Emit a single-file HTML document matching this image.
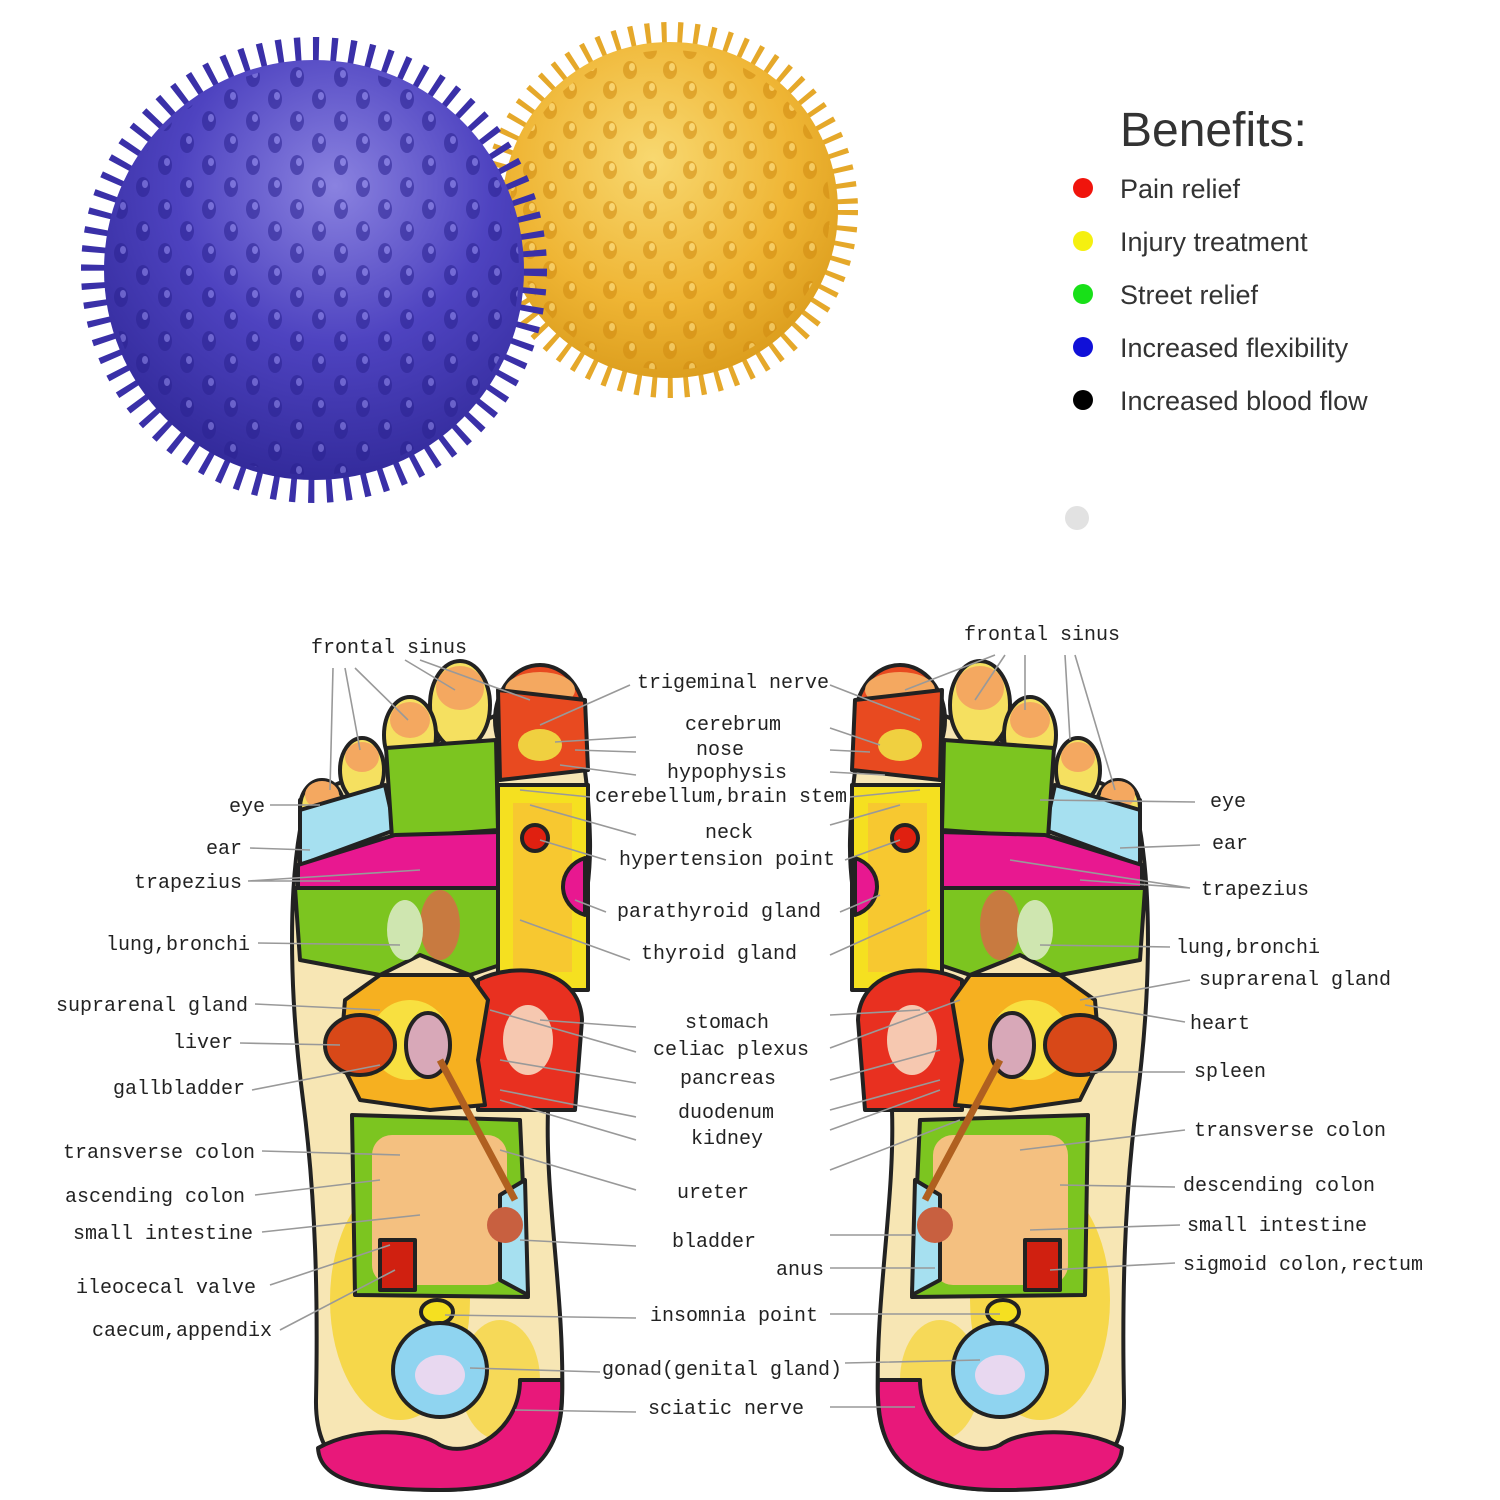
<!DOCTYPE html>
<html><head><meta charset="utf-8"><style>
html,body{margin:0;padding:0;background:#fff;}
svg{display:block}
.m{font-family:"Liberation Mono",monospace;font-size:20px;fill:#222;}
.s{font-family:"Liberation Sans",sans-serif;fill:#333;}
.ln{stroke:#999;stroke-width:1.6;fill:none}
.o{stroke:#222;stroke-width:4;stroke-linejoin:round}
</style></head><body>
<svg width="1500" height="1500" viewBox="0 0 1500 1500" xmlns="http://www.w3.org/2000/svg">
<defs>
<radialGradient id="yb" cx="0.45" cy="0.35" r="0.7"><stop offset="0" stop-color="#f8d870"/><stop offset="0.6" stop-color="#efb534"/><stop offset="1" stop-color="#d99a1a"/></radialGradient>
<radialGradient id="bb" cx="0.55" cy="0.3" r="0.75"><stop offset="0" stop-color="#8a82e0"/><stop offset="0.5" stop-color="#4e43c0"/><stop offset="1" stop-color="#2f2796"/></radialGradient>
<pattern id="bp" width="44" height="44" patternUnits="userSpaceOnUse">
 <ellipse cx="11" cy="11" rx="7" ry="10" fill="#2a2290"/>
 <ellipse cx="13" cy="8" rx="3" ry="4" fill="#8f88e6"/>
 <ellipse cx="33" cy="33" rx="7" ry="10" fill="#2a2290"/>
 <ellipse cx="35" cy="30" rx="3" ry="4" fill="#8f88e6"/>
</pattern>
<pattern id="yp" width="40" height="40" patternUnits="userSpaceOnUse">
 <ellipse cx="10" cy="10" rx="7" ry="9" fill="#d08a10"/>
 <ellipse cx="12" cy="7" rx="3" ry="4" fill="#fde08a"/>
 <ellipse cx="30" cy="30" rx="7" ry="9" fill="#d08a10"/>
 <ellipse cx="32" cy="27" rx="3" ry="4" fill="#fde08a"/>
</pattern>
<g id="foot">
 <path class="o" fill="#f7e6b4" d="M300,830 C288,900 290,1000 303,1100 C316,1200 318,1300 316,1400 C315,1470 360,1490 440,1490 C520,1490 560,1462 562,1400 C565,1300 545,1200 548,1110 C552,1010 592,930 590,840 C588,760 575,700 555,690 L300,800 Z"/>
 <ellipse cx="400" cy="1300" rx="70" ry="120" fill="#f5d330" opacity="0.8"/>
 <ellipse cx="500" cy="1380" rx="40" ry="60" fill="#f5d330" opacity="0.7"/>
 <ellipse cx="540" cy="720" rx="45" ry="55" class="o" fill="#e84a20"/>
 <ellipse cx="540" cy="690" rx="35" ry="18" fill="#f4a860"/>
 <ellipse cx="460" cy="705" rx="30" ry="44" class="o" fill="#f5e060"/>
 <ellipse cx="460" cy="688" rx="24" ry="22" fill="#f4a860"/>
 <ellipse cx="410" cy="735" rx="26" ry="38" class="o" fill="#f5e060"/>
 <ellipse cx="410" cy="720" rx="20" ry="18" fill="#f4a860"/>
 <ellipse cx="362" cy="770" rx="22" ry="32" class="o" fill="#f5e060"/>
 <ellipse cx="362" cy="757" rx="17" ry="15" fill="#f4a860"/>
 <ellipse cx="322" cy="808" rx="22" ry="28" class="o" fill="#f5e060"/>
 <ellipse cx="322" cy="795" rx="17" ry="14" fill="#f4a860"/>
 <path class="o" fill="#a6e0f0" d="M300,810 L385,785 L395,830 L300,865 Z"/>
 <path class="o" fill="#7cc520" d="M386,748 L496,740 L498,830 L392,838 Z"/>
 <path class="o" fill="#e81890" d="M298,865 L395,835 L500,832 L500,890 L298,890 Z"/>
 <path class="o" fill="#7cc520" d="M295,888 L500,888 L500,965 L470,975 L420,955 L380,975 L300,960 Z"/>
 <ellipse cx="440" cy="925" rx="20" ry="35" fill="#c87a40"/>
 <ellipse cx="405" cy="930" rx="18" ry="30" fill="#cfe6b0"/>
 <path class="o" fill="#f5e020" d="M498,785 L588,785 L588,990 L498,990 Z"/>
 <path stroke="#f5e020" stroke-width="6" fill="#f7c830" d="M510,800 L575,800 L575,975 L510,975 Z"/>
 <path class="o" fill="#e81890" d="M585,858 A32,30 0 0 0 585,915 Z"/>
 <circle cx="535" cy="838" r="13" class="o" fill="#e02010"/>
 <path class="o" fill="#e84a20" d="M498,690 L585,700 L588,770 L500,780 Z"/>
 <ellipse cx="540" cy="745" rx="22" ry="16" fill="#f0d040"/>
 <path class="o" fill="#e83020" d="M478,980 C520,960 580,970 582,1020 L575,1110 L478,1110 Z"/>
 <ellipse cx="528" cy="1040" rx="25" ry="35" fill="#f6c8b0"/>
 <path class="o" fill="#f6b020" d="M345,1000 L380,975 L470,975 L488,1000 L478,1060 L485,1105 L430,1110 L360,1100 L340,1060 Z"/>
 <circle cx="410" cy="1040" r="40" fill="#f8e040"/>
 <ellipse cx="360" cy="1045" rx="35" ry="30" class="o" fill="#d84818"/>
 <ellipse cx="428" cy="1045" rx="22" ry="32" class="o" fill="#d8a8b8"/>
 <path class="o" fill="#7cc520" d="M352,1115 L520,1120 L528,1297 L355,1295 L352,1115 Z"/>
 <rect x="372" y="1135" width="135" height="150" rx="20" fill="#f4c080"/>
 <path class="o" fill="#a6e0f0" d="M500,1195 L525,1180 L528,1295 L500,1280 Z"/>
 <ellipse cx="505" cy="1225" rx="18" ry="18" fill="#c86040"/>
 <path stroke="#b06020" stroke-width="7" d="M440,1060 L515,1200"/>
 <rect x="380" y="1240" width="35" height="50" class="o" fill="#d02010"/>
 <ellipse cx="437" cy="1312" rx="16" ry="12" class="o" fill="#f5e020"/>
 <circle cx="440" cy="1370" r="47" class="o" fill="#8fd4f0"/>
 <ellipse cx="440" cy="1375" rx="25" ry="20" fill="#e8d8f0"/>
 <path class="o" fill="#e8187a" d="M318,1448 C360,1425 420,1430 440,1445 C470,1460 520,1430 520,1380 L562,1380 C565,1460 530,1490 440,1490 C360,1490 320,1480 318,1448 Z"/>
</g>
</defs>

<g>
 <circle cx="670" cy="210" r="175" fill="none" stroke="#e5a82a" stroke-width="26" stroke-dasharray="5 11"/>
 <circle cx="670" cy="210" r="168" fill="url(#yb)"/>
 <circle cx="670" cy="210" r="160" fill="url(#yp)" opacity="0.55"/>
 <circle cx="314" cy="270" r="218" fill="none" stroke="#3a30a8" stroke-width="30" stroke-dasharray="6 12"/>
 <circle cx="314" cy="270" r="210" fill="url(#bb)"/>
 <circle cx="314" cy="270" r="205" fill="url(#bp)" opacity="0.55"/>
</g>

<text x="1120" y="146" class="s" font-size="48">Benefits:</text>
<circle cx="1083" cy="188" r="10" fill="#f0140c"/>
<circle cx="1083" cy="241" r="10" fill="#f5f010"/>
<circle cx="1083" cy="294" r="10" fill="#18e018"/>
<circle cx="1083" cy="347" r="10" fill="#1010d8"/>
<circle cx="1083" cy="400" r="10" fill="#000"/>
<g class="s" font-size="27">
<text x="1120" y="198">Pain relief</text>
<text x="1120" y="251">Injury treatment</text>
<text x="1120" y="304">Street relief</text>
<text x="1120" y="357">Increased flexibility</text>
<text x="1120" y="410">Increased blood flow</text>
</g>
<circle cx="1077" cy="518" r="12" fill="#e2e2e2"/>

<use href="#foot"/>
<use href="#foot" transform="translate(1440,0) scale(-1,1)"/>

<g class="ln">
<path d="M333,668 L330,790 M345,668 L360,750 M355,668 L408,720 M405,660 L455,690 M420,660 L530,700"/>
<path d="M995,655 L905,690 M1005,655 L975,700 M1025,655 L1025,710 M1065,655 L1070,740 M1075,655 L1115,790"/>
<path d="M270,805 L320,805 M250,848 L310,850 M248,881 L340,881 M248,881 L420,870 M258,943 L400,945 M255,1004 L380,1010 M240,1043 L340,1045 M252,1090 L380,1065 M262,1151 L400,1155 M255,1195 L380,1180 M262,1232 L420,1215 M270,1285 L390,1245 M280,1330 L395,1270"/>
<path d="M630,685 L540,725 M636,737 L555,742 M636,752 L575,750 M636,775 L560,765 M590,797 L520,790 M636,835 L530,805 M606,860 L540,840 M606,912 L575,900 M630,960 L520,920 M636,1027 L540,1020 M636,1052 L490,1010 M636,1083 L500,1060 M636,1117 L500,1090 M636,1140 L500,1100 M636,1190 L500,1150 M636,1246 L520,1240 M636,1318 L445,1315 M600,1372 L470,1368 M636,1412 L515,1410"/>
<path d="M830,685 L920,720 M830,728 L880,745 M830,750 L870,752 M830,772 L885,775 M850,797 L920,790 M830,825 L900,805 M845,860 L900,840 M840,912 L880,895 M830,955 L930,910 M830,1015 L920,1010 M830,1048 L960,1000 M830,1080 L940,1050 M830,1110 L940,1080 M830,1130 L940,1090 M830,1170 L960,1120 M830,1235 L915,1235 M830,1268 L935,1268 M830,1314 L1000,1314 M845,1363 L980,1360 M830,1407 L915,1407"/>
<path d="M1195,802 L1040,800 M1200,845 L1120,848 M1190,888 L1010,860 M1190,888 L1080,880 M1170,947 L1040,945 M1190,980 L1080,1000 M1185,1022 L1085,1005 M1185,1072 L1090,1072 M1185,1130 L1020,1150 M1175,1187 L1060,1185 M1180,1225 L1030,1230 M1175,1263 L1050,1270"/>
</g>

<g class="m">
<text x="389" y="653" text-anchor="middle">frontal sinus</text>
<text x="1042" y="640" text-anchor="middle">frontal sinus</text>
<g text-anchor="end">
<text x="265" y="812">eye</text>
<text x="242" y="854">ear</text>
<text x="242" y="888">trapezius</text>
<text x="250" y="950">lung,bronchi</text>
<text x="248" y="1011">suprarenal gland</text>
<text x="233" y="1048">liver</text>
<text x="245" y="1094">gallbladder</text>
<text x="255" y="1158">transverse colon</text>
<text x="245" y="1202">ascending colon</text>
<text x="253" y="1239">small intestine</text>
<text x="256" y="1293">ileocecal valve</text>
<text x="272" y="1336">caecum,appendix</text>
<text x="824" y="1275">anus</text>
</g>
<g text-anchor="middle">
<text x="733" y="688">trigeminal nerve</text>
<text x="733" y="730">cerebrum</text>
<text x="720" y="755">nose</text>
<text x="727" y="778">hypophysis</text>
<text x="721" y="802">cerebellum,brain stem</text>
<text x="729" y="838">neck</text>
<text x="727" y="865">hypertension point</text>
<text x="719" y="917">parathyroid gland</text>
<text x="719" y="959">thyroid gland</text>
<text x="727" y="1028">stomach</text>
<text x="731" y="1055">celiac plexus</text>
<text x="728" y="1084">pancreas</text>
<text x="726" y="1118">duodenum</text>
<text x="727" y="1144">kidney</text>
<text x="713" y="1198">ureter</text>
<text x="714" y="1247">bladder</text>
<text x="734" y="1321">insomnia point</text>
<text x="722" y="1375">gonad(genital gland)</text>
<text x="726" y="1414">sciatic nerve</text>
</g>
<text x="1210" y="807">eye</text>
<text x="1212" y="849">ear</text>
<text x="1201" y="895">trapezius</text>
<text x="1176" y="953">lung,bronchi</text>
<text x="1199" y="985">suprarenal gland</text>
<text x="1190" y="1029">heart</text>
<text x="1194" y="1077">spleen</text>
<text x="1194" y="1136">transverse colon</text>
<text x="1183" y="1191">descending colon</text>
<text x="1187" y="1231">small intestine</text>
<text x="1183" y="1270">sigmoid colon,rectum</text>
</g>
</svg>
</body></html>
